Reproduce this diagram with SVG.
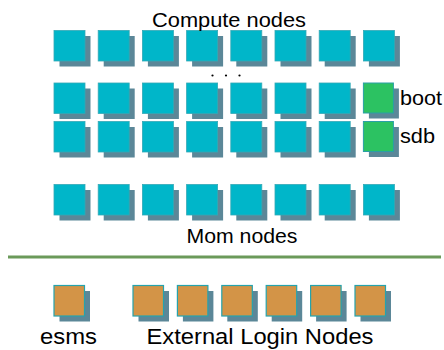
<svg xmlns="http://www.w3.org/2000/svg" xmlns:xlink="http://www.w3.org/1999/xlink" width="444" height="350" viewBox="0 0 444 350">
  <style>
    .shadow { fill: #5b8798; }
    .compute { fill: #00b6c9; stroke: #33a9b6; stroke-width: 0.8; }
    .service { fill: #2cc262; stroke: #2a9fa6; stroke-width: 1; }
    .login { fill: #d39447; stroke: #25a3ad; stroke-width: 1.2; }
    .label { font-family: "Liberation Sans", Arial, Helvetica, sans-serif; fill: #000; }
    .divider { stroke: #6b9a5a; stroke-width: 3; }
  </style>
  <defs>
    <g id="computeNode">
      <rect class="shadow" x="5.5" y="5.5" width="31" height="30.5"/>
      <rect class="compute" x="0" y="0" width="31" height="30.5"/>
    </g>
    <g id="serviceNode">
      <rect class="shadow" x="5.5" y="5.5" width="30" height="30"/>
      <rect class="service" x="0" y="0" width="30" height="30"/>
    </g>
    <g id="loginNode">
      <rect class="shadow" x="5.5" y="5.5" width="30.5" height="30.5"/>
      <rect class="login" x="0" y="0" width="30.5" height="30.5"/>
    </g>
  </defs>

  <!-- Compute nodes, first row -->
  <g id="compute-r1-1" transform="translate(54,30.5)"><use xlink:href="#computeNode"/></g>
  <g id="compute-r1-2" transform="translate(98.2,30.5)"><use xlink:href="#computeNode"/></g>
  <g id="compute-r1-3" transform="translate(142.4,30.5)"><use xlink:href="#computeNode"/></g>
  <g id="compute-r1-4" transform="translate(186.6,30.5)"><use xlink:href="#computeNode"/></g>
  <g id="compute-r1-5" transform="translate(230.8,30.5)"><use xlink:href="#computeNode"/></g>
  <g id="compute-r1-6" transform="translate(275,30.5)"><use xlink:href="#computeNode"/></g>
  <g id="compute-r1-7" transform="translate(319.2,30.5)"><use xlink:href="#computeNode"/></g>
  <g id="compute-r1-8" transform="translate(363.4,30.5)"><use xlink:href="#computeNode"/></g>

  <!-- ellipsis between rows -->
  <g id="ellipsis" fill="#000">
    <circle cx="212.5" cy="75.5" r="1.1"/>
    <circle cx="226" cy="75.5" r="1.1"/>
    <circle cx="239.5" cy="75.5" r="1.1"/>
  </g>

  <!-- Compute nodes, second row -->
  <g id="compute-r2-1" transform="translate(54,83)"><use xlink:href="#computeNode"/></g>
  <g id="compute-r2-2" transform="translate(98.2,83)"><use xlink:href="#computeNode"/></g>
  <g id="compute-r2-3" transform="translate(142.4,83)"><use xlink:href="#computeNode"/></g>
  <g id="compute-r2-4" transform="translate(186.6,83)"><use xlink:href="#computeNode"/></g>
  <g id="compute-r2-5" transform="translate(230.8,83)"><use xlink:href="#computeNode"/></g>
  <g id="compute-r2-6" transform="translate(275,83)"><use xlink:href="#computeNode"/></g>
  <g id="compute-r2-7" transform="translate(319.2,83)"><use xlink:href="#computeNode"/></g>
  <g id="boot" transform="translate(363.4,83)"><use xlink:href="#serviceNode"/></g>

  <!-- Compute nodes, third row -->
  <g id="compute-r3-1" transform="translate(54,121.5)"><use xlink:href="#computeNode"/></g>
  <g id="compute-r3-2" transform="translate(98.2,121.5)"><use xlink:href="#computeNode"/></g>
  <g id="compute-r3-3" transform="translate(142.4,121.5)"><use xlink:href="#computeNode"/></g>
  <g id="compute-r3-4" transform="translate(186.6,121.5)"><use xlink:href="#computeNode"/></g>
  <g id="compute-r3-5" transform="translate(230.8,121.5)"><use xlink:href="#computeNode"/></g>
  <g id="compute-r3-6" transform="translate(275,121.5)"><use xlink:href="#computeNode"/></g>
  <g id="compute-r3-7" transform="translate(319.2,121.5)"><use xlink:href="#computeNode"/></g>
  <g id="sdb" transform="translate(363.4,121.5)"><use xlink:href="#serviceNode"/></g>

  <!-- Mom nodes -->
  <g id="mom-1" transform="translate(54,184.5)"><use xlink:href="#computeNode"/></g>
  <g id="mom-2" transform="translate(98.2,184.5)"><use xlink:href="#computeNode"/></g>
  <g id="mom-3" transform="translate(142.4,184.5)"><use xlink:href="#computeNode"/></g>
  <g id="mom-4" transform="translate(186.6,184.5)"><use xlink:href="#computeNode"/></g>
  <g id="mom-5" transform="translate(230.8,184.5)"><use xlink:href="#computeNode"/></g>
  <g id="mom-6" transform="translate(275,184.5)"><use xlink:href="#computeNode"/></g>
  <g id="mom-7" transform="translate(319.2,184.5)"><use xlink:href="#computeNode"/></g>
  <g id="mom-8" transform="translate(363.4,184.5)"><use xlink:href="#computeNode"/></g>

  <!-- separator between internal and external systems -->
  <g id="connectors">
    <line class="divider" x1="8" y1="257" x2="441" y2="257"/>
  </g>

  <!-- External nodes -->
  <g id="esms" transform="translate(54,285.5)"><use xlink:href="#loginNode"/></g>
  <g id="login-1" transform="translate(133,285.5)"><use xlink:href="#loginNode"/></g>
  <g id="login-2" transform="translate(177.4,285.5)"><use xlink:href="#loginNode"/></g>
  <g id="login-3" transform="translate(221.8,285.5)"><use xlink:href="#loginNode"/></g>
  <g id="login-4" transform="translate(266.2,285.5)"><use xlink:href="#loginNode"/></g>
  <g id="login-5" transform="translate(310.6,285.5)"><use xlink:href="#loginNode"/></g>
  <g id="login-6" transform="translate(355,285.5)"><use xlink:href="#loginNode"/></g>

  <!-- Labels -->
  <g id="labels">
    <text class="label" x="152" y="26.5" font-size="21" textLength="154" lengthAdjust="spacingAndGlyphs">Compute nodes</text>
    <text class="label" x="400" y="104.7" font-size="20" textLength="42" lengthAdjust="spacingAndGlyphs">boot</text>
    <text class="label" x="400" y="143" font-size="20" textLength="35" lengthAdjust="spacingAndGlyphs">sdb</text>
    <text class="label" x="186.5" y="243.3" font-size="20" textLength="111" lengthAdjust="spacingAndGlyphs">Mom nodes</text>
    <text class="label" x="40" y="344.3" font-size="22" textLength="57" lengthAdjust="spacingAndGlyphs">esms</text>
    <text class="label" x="146.5" y="344.3" font-size="22" textLength="227" lengthAdjust="spacingAndGlyphs">External Login Nodes</text>
  </g>
</svg>
